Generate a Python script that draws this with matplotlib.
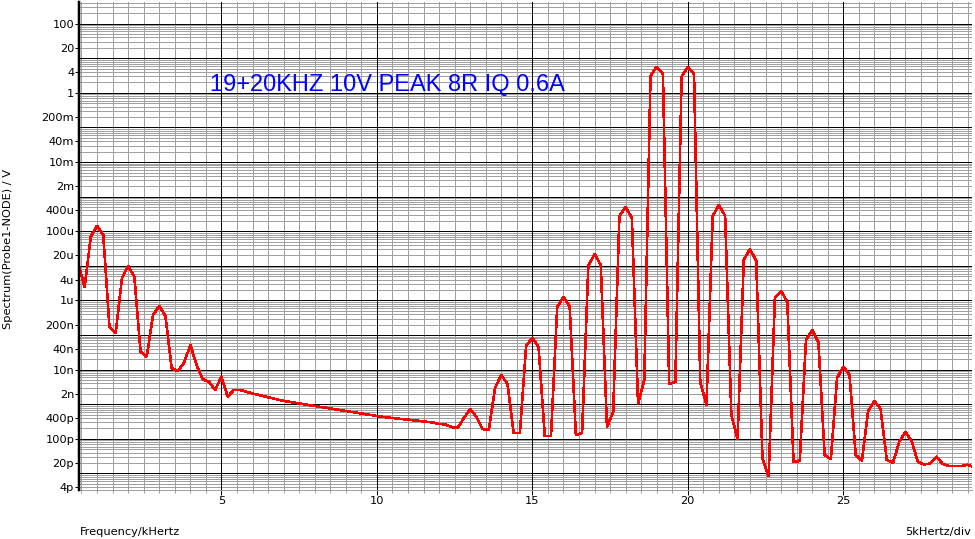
import matplotlib
matplotlib.use('Agg')
import matplotlib.pyplot as plt
from matplotlib.ticker import FixedLocator, NullLocator
import numpy as np

PX = 0.72  # one pixel in points at dpi 100

# ── Data ──────────────────────────────────────────────────────────────────────
freq_khz = [
    0.4, 0.6, 0.8, 1.0, 1.2, 1.4, 1.6, 1.8, 2.0, 2.2,
    2.4, 2.6, 2.8, 3.0, 3.2, 3.4, 3.6, 3.8, 4.0, 4.2,
    4.4, 4.6, 4.8, 5.0, 5.2, 5.4, 5.6, 5.8, 6.0, 6.2,
    6.4, 6.6, 6.8, 7.0, 7.2, 7.4, 7.6, 7.8, 8.0, 8.2,
    8.4, 8.6, 8.8, 9.0, 9.2, 9.4, 9.6, 9.8, 10.0, 10.2,
    10.4, 10.6, 10.8, 11.0, 11.2, 11.4, 11.6, 11.8, 12.0, 12.2,
    12.4, 12.6, 12.8, 13.0, 13.2, 13.4, 13.6, 13.8, 14.0, 14.2,
    14.4, 14.6, 14.8, 15.0, 15.2, 15.4, 15.6, 15.8, 16.0, 16.2,
    16.4, 16.6, 16.8, 17.0, 17.2, 17.4, 17.6, 17.8, 18.0, 18.2,
    18.4, 18.6, 18.8, 19.0, 19.2, 19.4, 19.6, 19.8, 20.0, 20.2,
    20.4, 20.6, 20.8, 21.0, 21.2, 21.4, 21.6, 21.8, 22.0, 22.2,
    22.4, 22.6, 22.8, 23.0, 23.2, 23.4, 23.6, 23.8, 24.0, 24.2,
    24.4, 24.6, 24.8, 25.0, 25.2, 25.4, 25.6, 25.8, 26.0, 26.2,
    26.4, 26.6, 26.8, 27.0, 27.2, 27.4, 27.6, 27.8, 28.0, 28.2,
    28.4, 28.6, 28.8, 29.0, 29.2,
]
spectrum_v = [
    1.2e-5, 2.41e-6, 6.98e-5, 1.45e-4, 7.82e-5, 1.68e-7, 1.13e-7, 4.38e-6, 9.93e-6, 4.88e-6,
    3.31e-8, 2.38e-8, 3.81e-7, 6.93e-7, 3.56e-7, 1.10e-8, 9.17e-9, 1.59e-8, 5.18e-8, 1.37e-8,
    5.28e-9, 4.50e-9, 2.59e-9, 6.28e-9, 1.66e-9, 2.59e-9, 2.59e-9, 2.31e-9, 2.05e-9, 1.86e-9,
    1.68e-9, 1.52e-9, 1.38e-9, 1.25e-9, 1.17e-9, 1.09e-9, 1.02e-9, 9.55e-10, 8.93e-10, 8.36e-10,
    7.82e-10, 7.31e-10, 6.84e-10, 6.40e-10, 5.98e-10, 5.61e-10, 5.25e-10, 4.91e-10, 4.59e-10, 4.30e-10,
    4.10e-10, 3.92e-10, 3.76e-10, 3.59e-10, 3.43e-10, 3.29e-10, 3.12e-10, 2.98e-10, 2.70e-10, 2.61e-10,
    2.21e-10, 2.07e-10, 4.02e-10, 7.31e-10, 4.30e-10, 1.93e-10, 1.81e-10, 2.96e-9, 7.03e-9, 3.86e-9,
    1.48e-10, 1.48e-10, 4.84e-8, 8.24e-8, 4.53e-8, 1.21e-10, 1.21e-10, 6.49e-7, 1.26e-6, 6.93e-7,
    1.30e-10, 1.48e-10, 9.93e-6, 2.21e-5, 1.06e-5, 2.21e-10, 5.98e-10, 2.77e-4, 5.04e-4, 2.42e-4,
    1.02e-9, 5.04e-9, 3.08, 5.71, 3.52, 3.86e-9, 4.41e-9, 2.94, 5.71, 3.52,
    4.41e-9, 9.55e-10, 2.77e-4, 5.75e-4, 2.77e-4, 4.91e-10, 9.93e-11, 1.48e-5, 3.08e-5, 1.39e-5,
    2.81e-11, 8.19e-12, 1.18e-6, 1.88e-6, 9.06e-7, 2.15e-11, 2.30e-11, 7.21e-8, 1.40e-7, 6.32e-8,
    3.43e-11, 2.57e-11, 5.75e-9, 1.22e-8, 7.03e-9, 3.43e-11, 2.34e-11, 6.40e-10, 1.25e-9, 7.31e-10,
    2.45e-11, 2.05e-11, 8.30e-11, 1.58e-10, 8.69e-11, 2.15e-11, 1.82e-11, 1.95e-11, 3.00e-11, 1.88e-11,
    1.65e-11, 1.65e-11, 1.65e-11, 1.79e-11, 1.51e-11,
]

y_tick_vals = [100, 20, 4, 1, 0.2, 0.04, 0.01, 2e-3, 4e-4, 1e-4, 2e-5, 4e-6,
               1e-6, 2e-7, 4e-8, 1e-8, 2e-9, 4e-10, 1e-10, 2e-11, 4e-12]
y_tick_text = ['100', '20', '4', '1', '200m', '40m', '10m', '2m', '400u', '100u',
               '20u', '4u', '1u', '200n', '40n', '10n', '2n', '400p', '100p', '20p', '4p']
x_tick_vals = [5, 10, 15, 20, 25]

title = '19+20KHZ 10V PEAK 8R IQ 0.6A'

# ── Figure ────────────────────────────────────────────────────────────────────
plt.rcParams['font.family'] = 'DejaVu Sans'
fig = plt.figure(figsize=(9.75, 5.39), dpi=100)
W, H = 975, 539
ax = fig.add_axes([79 / W, 1 - 490 / H, (972 - 79) / W, (490 - 2) / H])
ax.set_yscale('log')
ax.set_xlim(0.42, 29.14)
ax.set_ylim(3.33e-12, 424)

# grid: gray minor (0.5 kHz, log 2..9), black major (5 kHz, decades)
grey = '#a0a0a0'
for k in range(-12, 3):
    for m in range(2, 10):
        ax.axhline(m * 10.0**k, color=grey, lw=PX, zorder=1, antialiased=False)
for k in range(-11, 3):
    ax.axhline(10.0**k, color='black', lw=PX, zorder=2, antialiased=False)
for f in np.arange(0.5, 29.5, 0.5):
    major = abs(f / 5 - round(f / 5)) < 1e-9
    ax.axvline(f, color='black' if major else grey, lw=PX,
               zorder=2 if major else 1, antialiased=False)

ax.plot(freq_khz, spectrum_v, color='#ff0000', lw=1.6 * PX, zorder=5,
        solid_joinstyle='miter', antialiased=False)

for s in ('top', 'right'):
    ax.spines[s].set_visible(False)
ax.spines['bottom'].set_color(grey)
ax.spines['bottom'].set_linewidth(PX)
ax.spines['left'].set_linewidth(2.5 * PX)
ax.spines['left'].set_zorder(6)

ax.yaxis.set_major_locator(FixedLocator(y_tick_vals))
ax.set_yticklabels(y_tick_text)
ax.yaxis.set_minor_locator(NullLocator())
ax.tick_params(axis='y', which='major', length=4 * PX, width=PX, pad=0.5,
               labelsize=8.2, color='black')

ax.set_xticks(x_tick_vals)
ax.set_xticklabels([str(v) for v in x_tick_vals])
ax.xaxis.set_minor_locator(FixedLocator(np.arange(0.5, 29.5, 0.5)))
ax.tick_params(axis='x', which='major', length=5 * PX, width=PX, pad=1,
               labelsize=8.2, color='black')
ax.tick_params(axis='x', which='minor', length=3 * PX, width=PX, color=grey)

fig.text(210 / W, 1 - 91 / H, title, color='#0000ff', fontsize=17,
         family='Liberation Sans', ha='left', va='baseline')
fig.text(8 / W, 1 - 249 / H, 'Spectrum(Probe1-NODE) / V', rotation=90,
         fontsize=8.2, ha='center', va='center')
fig.text(80 / W, 1 - 535 / H, 'Frequency/kHertz', fontsize=8.2,
         ha='left', va='baseline')
fig.text(971 / W, 1 - 535 / H, '5kHertz/div', fontsize=8.2,
         ha='right', va='baseline')

fig.savefig('out.png', dpi=100)
